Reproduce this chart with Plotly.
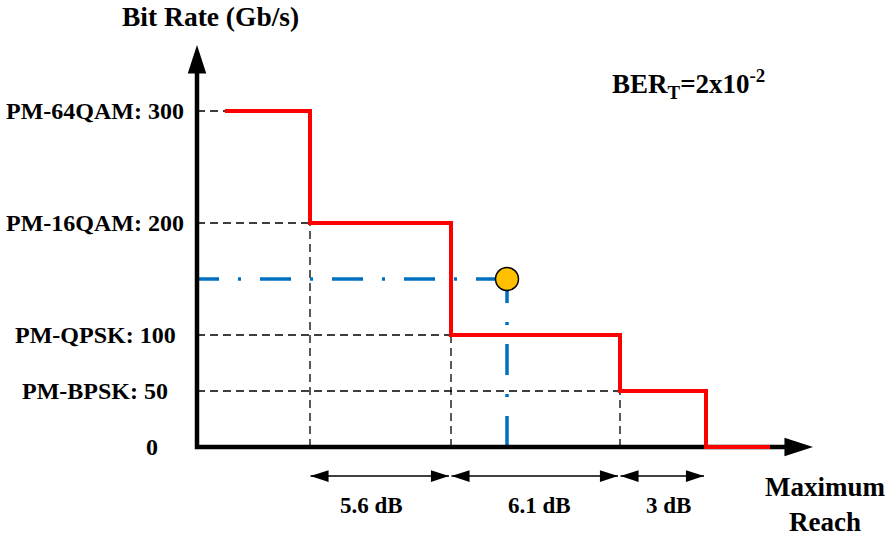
import plotly.graph_objects as go

# ---- data ----
reach_breaks = [28, 113, 254, 423, 509, 573]      # reach (arbitrary units) where each format starts/ends
bit_rate = [300, 200, 100, 50, 0, 0]              # Gb/s for each segment (step)
level_values = [300, 200, 100, 50, 0]
level_labels = ["PM-64QAM: 300", "PM-16QAM: 200", "PM-QPSK: 100", "PM-BPSK: 50", "0"]
margin_labels = ["5.6 dB", "6.1 dB", "3 dB"]
op_reach = [310]                                  # operating point
op_rate = [150]

FONT = "Times New Roman, Liberation Serif, serif"
X_MIN, X_MAX = -197, 692
Y_MIN, Y_MAX = -79.46, 399.1
X_TIP, Y_TIP = 616, 359

fig = go.Figure()

# dashed helper grid lines
GRID = dict(color="black", width=1.3, dash="8px,5px")
for i in range(4):
    y = bit_rate[i]
    fig.add_trace(go.Scatter(x=[0, reach_breaks[i]], y=[y, y], mode="lines", line=GRID,
                             hoverinfo="skip", showlegend=False))
for i in range(1, 4):
    xb = reach_breaks[i]
    fig.add_trace(go.Scatter(x=[xb, xb], y=[0, bit_rate[i]], mode="lines", line=GRID,
                             hoverinfo="skip", showlegend=False))

# blue dash-dot operating point guides
BLUE = dict(color="#0070C0", width=3.5, dash="31px,19px,3px,19px")
fig.add_trace(go.Scatter(x=[op_reach[0], op_reach[0]], y=[0, op_rate[0]], mode="lines",
                         line=BLUE, hoverinfo="skip", showlegend=False))
fig.add_trace(go.Scatter(x=[op_reach[0], 0], y=[op_rate[0], op_rate[0]], mode="lines",
                         line=BLUE, hoverinfo="skip", showlegend=False))

# axes with arrowheads
fig.add_trace(go.Scatter(x=[0, 0, X_TIP - 14], y=[Y_TIP - 12, 0, 0], mode="lines",
                         line=dict(color="black", width=4.5),
                         hoverinfo="skip", showlegend=False))
fig.add_trace(go.Scatter(x=[0, X_TIP], y=[Y_TIP, 0], mode="markers",
                         marker=dict(symbol="arrow", size=30, angle=[0, 90], color="black",
                                     line=dict(width=0)),
                         hoverinfo="skip", showlegend=False))

# red step line
fig.add_trace(go.Scatter(x=reach_breaks, y=bit_rate, mode="lines", line_shape="hv",
                         line=dict(color="#FF0000", width=4),
                         hoverinfo="skip", showlegend=False))

# operating point marker
fig.add_trace(go.Scatter(x=op_reach, y=op_rate, mode="markers",
                         marker=dict(size=23, color="#FFC000", line=dict(color="black", width=1.5)),
                         hoverinfo="skip", showlegend=False))

# dimension arrows for margins
DIM_Y = -25.9
label_shift = [-9, 4, 5]
for i in range(3):
    a, b = reach_breaks[i + 1], reach_breaks[i + 2]
    fig.add_trace(go.Scatter(x=[a + 0.5, b - 2], y=[DIM_Y, DIM_Y], mode="lines+markers",
                             line=dict(color="black", width=1.5),
                             marker=dict(symbol="arrow", size=19, angle=[270, 90], color="black",
                                         line=dict(width=0)),
                             hoverinfo="skip", showlegend=False))
    fig.add_annotation(x=(a + b) / 2 + label_shift[i], y=-51.8, text=margin_labels[i],
                       showarrow=False, xanchor="center", yanchor="middle",
                       font=dict(family=FONT, size=23, color="black", weight="bold"))

# y level labels
label_x = [-102, -102, -102, -102, -45]
for lx, v, t in zip(label_x, level_values, level_labels):
    fig.add_annotation(x=lx, y=v, text=t, showarrow=False, xanchor="center", yanchor="middle",
                       font=dict(family=FONT, size=24, color="black", weight="bold"))

# titles
fig.add_annotation(x=13, y=384, text="Bit Rate (Gb/s)", showarrow=False,
                   xanchor="center", yanchor="middle",
                   font=dict(family=FONT, size=27.5, color="black", weight="bold"))
fig.add_annotation(x=628, y=-51, text="Maximum<br>Reach", showarrow=False, align="center",
                   xanchor="center", yanchor="middle",
                   font=dict(family=FONT, size=27, color="black", weight="bold"))
fig.add_annotation(x=491, y=324, text="BER<sub>T</sub>=2x10<sup>-2</sup>", showarrow=False,
                   xanchor="center", yanchor="middle",
                   font=dict(family=FONT, size=27, color="black", weight="bold"))

fig.update_layout(
    width=889, height=536, autosize=False,
    margin=dict(l=0, r=0, t=0, b=0),
    paper_bgcolor="white", plot_bgcolor="white",
    xaxis=dict(range=[X_MIN, X_MAX], visible=False, fixedrange=True),
    yaxis=dict(range=[Y_MIN, Y_MAX], visible=False, fixedrange=True),
    showlegend=False,
)

fig.write_html("out.html", config={"displayModeBar": False},
               post_script="document.body.style.margin='0';document.body.style.overflow='hidden';")
